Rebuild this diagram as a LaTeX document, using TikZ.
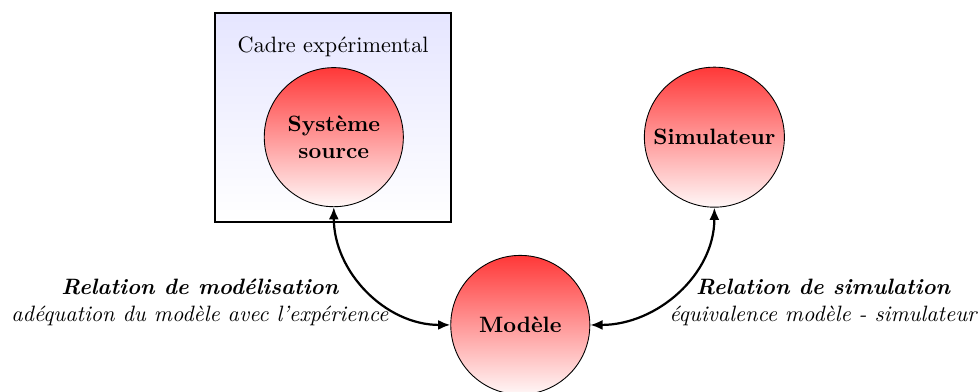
\documentclass[tikz,border=0pt]{standalone}
\usetikzlibrary{arrows.meta}

\begin{document}
\begin{tikzpicture}[
    bloc/.style={circle, draw, minimum size=2.2cm, align=center, font=\bfseries, top color=red!78, bottom color=red!3},
    cadre/.style={rectangle, draw, thick, minimum width=3.73cm, minimum height=3.31cm, top color=blue!10, bottom color=white},
    relation/.style={align=center, font=\itshape},
    lien/.style={{Latex[length=5.5pt, width=4.5pt]}-{Latex[length=5.5pt, width=4.5pt]}, line width=1pt}
]
\useasboundingbox (0, 0) rectangle (15.47, -6.19);

\node[cadre] (cadre) at (5.27, -1.86) {};
\node (titre) at (5.27, -0.74) {Cadre expérimental};

\node[bloc] (source) at (5.28, -2.17) {Système\\source};
\node[bloc] (simu) at (11.30, -2.17) {Simulateur};
\node[bloc] (modele) at (8.23, -5.14) {Modèle};

\node[relation] (lblmod) at (3.16, -4.78) {\textbf{Relation de modélisation}\\adéquation du modèle avec l'expérience};
\node[relation] (lblsim) at (13.02, -4.78) {\textbf{Relation de simulation}\\équivalence modèle - simulateur};

\draw[lien] (source.south) to[out=-90, in=180] (modele.west);
\draw[lien] (simu.south) to[out=-90, in=0] (modele.east);

\end{tikzpicture}
\end{document}
